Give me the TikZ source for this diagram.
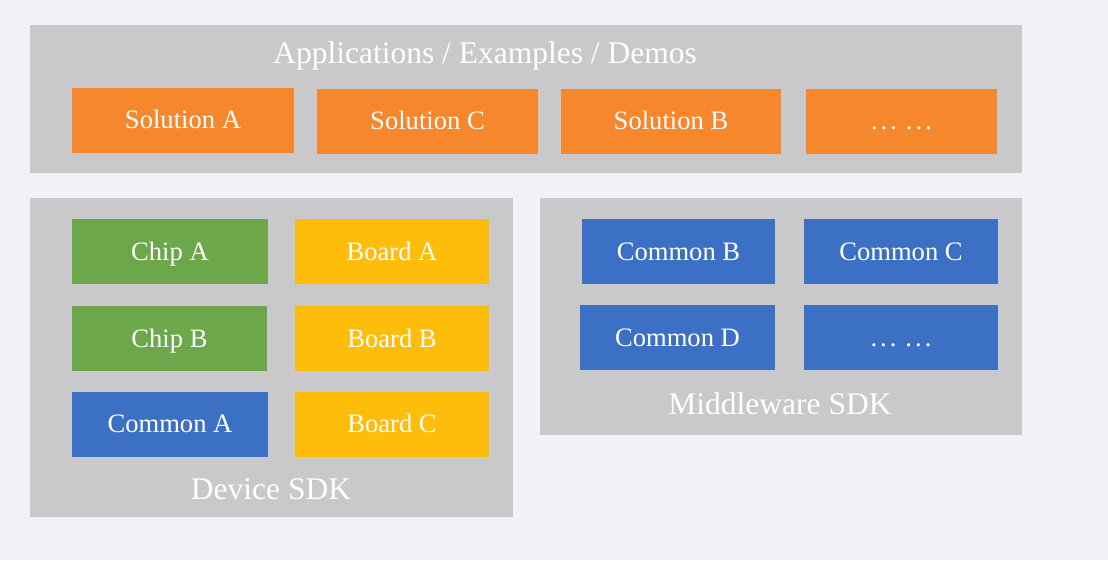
\documentclass[tikz,border=0pt]{standalone}
\usepackage{fontspec}
\setmainfont{Liberation Serif}
\definecolor{bgc}{HTML}{F2F1F6}
\definecolor{panelc}{HTML}{C9C8CA}
\definecolor{orangec}{HTML}{F6872C}
\definecolor{bluec}{HTML}{3C70C4}
\definecolor{greenc}{HTML}{6DA74C}
\definecolor{yellowc}{HTML}{FEBD0A}
\newcommand{\mydots}{.\hspace{3pt}.\hspace{3pt}.\hspace{9pt}.\hspace{3pt}.\hspace{3pt}.}
\begin{document}
\begin{tikzpicture}[x=1pt,y=-1pt,
  panel/.style={fill=panelc,draw=none,inner sep=0pt,minimum width=#1},
  box/.style={fill=#1,draw=none,inner sep=0pt,text=white,minimum height=65pt,
    text height=17.5pt,text depth=0pt,
    font=\fontsize{26.6}{30}\selectfont},
  plabel/.style={text=white,inner sep=0pt,text height=21pt,text depth=0pt,
    font=\fontsize{31.5}{36}\selectfont}]
\fill[bgc] (0,0) rectangle (1108,560);
\useasboundingbox (0,0) rectangle (1108,560);
% panels
\node[panel=992pt,minimum height=148pt] (apps) at (526,99) {};
\node[panel=483pt,minimum height=319pt] (device) at (271.5,357.5) {};
\node[panel=482pt,minimum height=237pt] (middle) at (781,316.5) {};
% panel labels
\node[plabel] (appsl) at (485,52.5) {Applications / Examples / Demos};
\node[plabel] (devl) at (271,489) {Device SDK};
\node[plabel] (midl) at (780,404) {Middleware SDK};
% solutions
\node[box=orangec,minimum width=222pt] (solA) at (183,120) {Solution A};
\node[box=orangec,minimum width=221pt] (solC) at (427.5,121) {Solution C};
\node[box=orangec,minimum width=220pt] (solB) at (671,121) {Solution B};
\node[box=orangec,minimum width=191pt] (solD) at (901.5,121) {\mydots};
% device
\node[box=greenc,minimum width=196pt] (chipA) at (170,251.5) {Chip A};
\node[box=yellowc,minimum width=194pt] (boardA) at (392,251.5) {Board A};
\node[box=greenc,minimum width=195pt] (chipB) at (169.5,338.5) {Chip B};
\node[box=yellowc,minimum width=194pt] (boardB) at (392,338.5) {Board B};
\node[box=bluec,minimum width=196pt] (comA) at (170,424) {Common A};
\node[box=yellowc,minimum width=194pt] (boardC) at (392,424) {Board C};
% middleware
\node[box=bluec,minimum width=193pt] (comB) at (678.5,251.5) {Common B};
\node[box=bluec,minimum width=194pt] (comC) at (901,251.5) {Common C};
\node[box=bluec,minimum width=195pt] (comD) at (677.5,337.5) {Common D};
\node[box=bluec,minimum width=194pt] (comE) at (901,337.5) {\mydots};
\end{tikzpicture}
\end{document}
